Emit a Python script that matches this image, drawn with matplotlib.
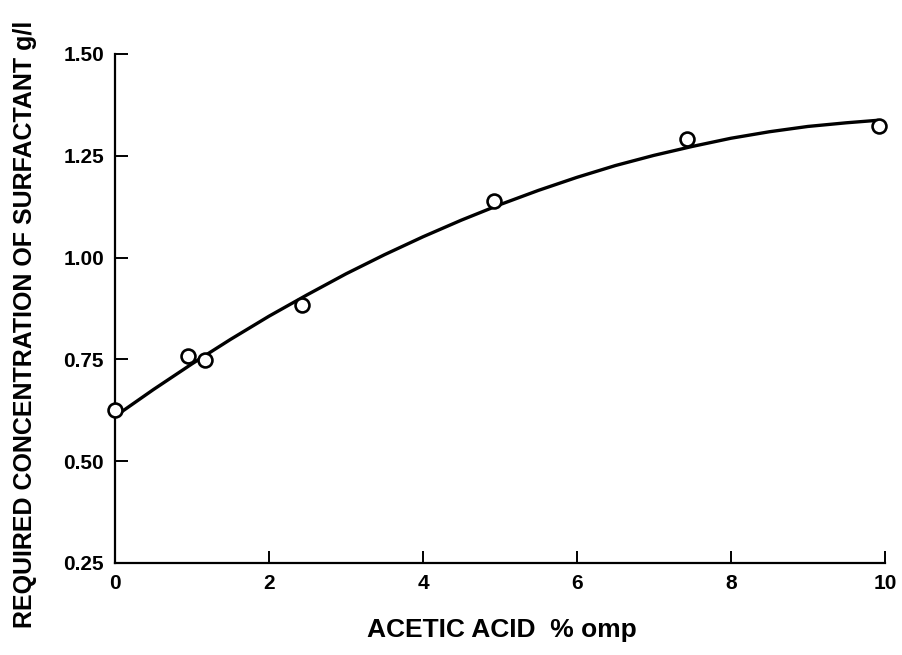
import matplotlib.pyplot as plt

# Measured points: acetic acid (% omp) vs required surfactant (g/l)
acid_pct = [0.0, 0.95, 1.17, 2.43, 4.92, 7.43, 9.93]
surfactant = [0.626, 0.759, 0.749, 0.884, 1.138, 1.290, 1.323]

# Smoothed trend line, read at half-unit steps
curve_x = [0.0, 0.5, 1.0, 1.5, 2.0, 2.5, 3.0, 3.5, 4.0, 4.5, 5.0,
           5.5, 6.0, 6.5, 7.0, 7.5, 8.0, 8.5, 9.0, 9.5, 9.9]
curve_y = [0.610, 0.676, 0.739, 0.799, 0.856, 0.909, 0.960, 1.007, 1.051,
           1.092, 1.130, 1.165, 1.197, 1.226, 1.251, 1.273, 1.293, 1.309,
           1.322, 1.331, 1.337]

xticks = [0, 2, 4, 6, 8, 10]
yticks = [0.25, 0.50, 0.75, 1.00, 1.25, 1.50]

plt.rcParams["font.family"] = ["Liberation Sans", "DejaVu Sans"]

fig = plt.figure(figsize=(9.02, 6.55), dpi=100)
ax = fig.add_axes([0.1275, 0.1405, 0.8535, 0.7771])

ax.plot(curve_x, curve_y, color="black", lw=2.4, solid_capstyle="round",
        clip_on=False)
ax.plot(acid_pct, surfactant, "o", mfc="white", mec="black", mew=1.9, ms=10,
        clip_on=False, zorder=4)

ax.set_xlim(0, 10)
ax.set_ylim(0.25, 1.50)
ax.set_xticks(xticks)
ax.set_xticklabels([str(t) for t in xticks])
ax.set_yticks(yticks)
ax.set_yticklabels([f"{t:.2f}" for t in yticks])

for side in ("top", "right"):
    ax.spines[side].set_visible(False)
for side in ("left", "bottom"):
    ax.spines[side].set_linewidth(1.6)

ax.tick_params(direction="in", length=9, width=1.4, labelsize=15)
ax.tick_params(axis="x", pad=8)
ax.tick_params(axis="y", pad=8)
for lab in ax.get_xticklabels() + ax.get_yticklabels():
    lab.set_fontweight("bold")

fig.text(0.028, 1 - 324 / 655, "REQUIRED CONCENTRATION OF SURFACTANT g/l",
         rotation=90, ha="center", va="center", fontsize=18, fontweight="bold")
fig.text(502 / 902, 1 - 630 / 655, "ACETIC ACID  % omp",
         ha="center", va="center", fontsize=19, fontweight="bold")

fig.savefig("out.png", dpi=100)
